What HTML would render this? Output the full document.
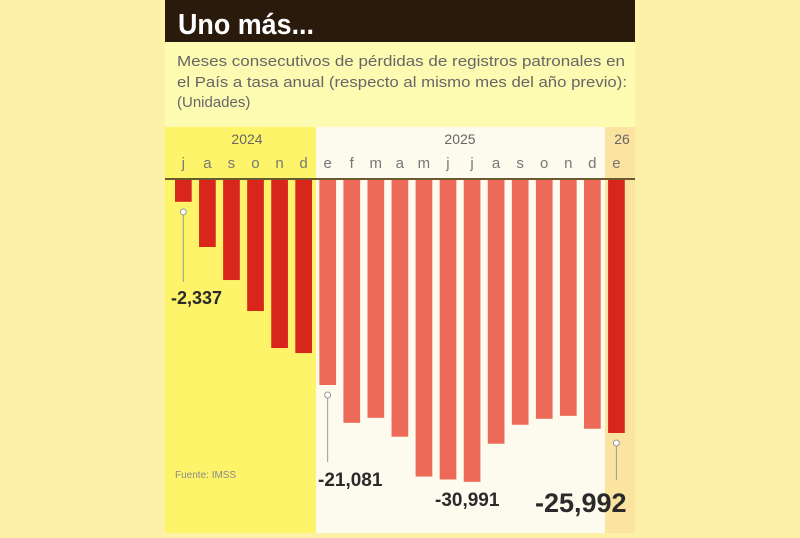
<!DOCTYPE html>
<html><head><meta charset="utf-8"><style>
body{margin:0;width:800px;height:533px;background:#fdf1a8;overflow:hidden;font-family:"Liberation Sans",sans-serif}
</style></head><body>
<svg width="800" height="533" viewBox="0 0 800 533">
<rect x="165" y="0" width="470" height="42" fill="#2a1a0c"/>
<text x="178" y="34" font-size="29" font-weight="bold" fill="#fff" textLength="136" lengthAdjust="spacingAndGlyphs">Uno más...</text>
<rect x="165" y="42" width="470" height="85" fill="#fdfab2"/>
<g font-size="15" fill="#666">
<text x="177" y="66" textLength="448" lengthAdjust="spacingAndGlyphs">Meses consecutivos de pérdidas de registros patronales en</text>
<text x="177" y="87" textLength="450" lengthAdjust="spacingAndGlyphs">el País a tasa anual (respecto al mismo mes del año previo):</text>
<text x="177" y="107">(Unidades)</text>
</g>
<rect x="165" y="127" width="151" height="406" fill="#fef46a"/>
<rect x="316" y="127" width="289" height="406" fill="#fdfbee"/>
<rect x="605" y="127" width="30" height="406" fill="#fbe3a0"/>
<g font-size="14" fill="#666" text-anchor="middle">
<text x="247" y="144">2024</text>
<text x="460" y="144">2025</text>
<text x="622" y="144">26</text>
</g>
<g id="bars"></g>
<line x1="165" y1="179" x2="635" y2="179" stroke="#6b5a30" stroke-width="2"/>
<g id="ann" font-weight="bold" fill="#2a2a2a"></g>
<text x="175" y="478" font-size="10" fill="#888">Fuente: IMSS</text>
</svg>
<script>
const months=["j","a","s","o","n","d","e","f","m","a","m","j","j","a","s","o","n","d","e"];
const years=[2024,2024,2024,2024,2024,2024,2025,2025,2025,2025,2025,2025,2025,2025,2025,2025,2025,2025,2026];
const values=[-2337,-6960,-10340,-13510,-17300,-17810,-21081,-24950,-24440,-26370,-30450,-30750,-30991,-27090,-25150,-24540,-24240,-25560,-25992];
const NS="http://www.w3.org/2000/svg";
const y0=179,k=206/21081;
const xs=i=>175+i*24.06, yv=v=>y0-v*k;
const bars=document.getElementById('bars'),svg=document.querySelector('svg');
months.forEach((m,i)=>{
 const r=document.createElementNS(NS,'rect');
 r.setAttribute('x',xs(i));r.setAttribute('y',y0);r.setAttribute('width',16.7);
 r.setAttribute('height',yv(values[i])-y0);
 r.setAttribute('fill',years[i]===2025?'#ee6a58':'#d9261c');
 
 
 bars.appendChild(r);
 const t=document.createElementNS(NS,'text');
 t.setAttribute('x',xs(i)+8.3);t.setAttribute('y',168);t.setAttribute('font-size','15');
 t.setAttribute('text-anchor','middle');t.setAttribute('fill','#777');t.textContent=m;
 
 
 svg.appendChild(t);
});
const ann=document.getElementById('ann');
function lead(i,y2){const cx=xs(i)+8.3,cy=yv(values[i])+10;
 const l=document.createElementNS(NS,'line');l.setAttribute('x1',cx);l.setAttribute('x2',cx);l.setAttribute('y1',cy+3);l.setAttribute('y2',y2);l.setAttribute('stroke','#999');
 
 
 ann.appendChild(l);
 const c=document.createElementNS(NS,'circle');c.setAttribute('cx',cx);c.setAttribute('cy',cy);c.setAttribute('r',3);c.setAttribute('fill','#fff');c.setAttribute('stroke','#999');
 
 
 ann.appendChild(c);}
function lab(i,x,y,fs){const t=document.createElementNS(NS,'text');t.setAttribute('x',x);t.setAttribute('y',y);t.setAttribute('font-size',fs);
 t.textContent=values[i].toLocaleString('en-US');
 
 
 ann.appendChild(t);}
lead(0,282);lab(0,171,304,18);
lead(6,462);lab(6,318,486,19);
lab(12,435,506,19);
lead(18,480);lab(18,535,512,27);
</script>
</body></html>
